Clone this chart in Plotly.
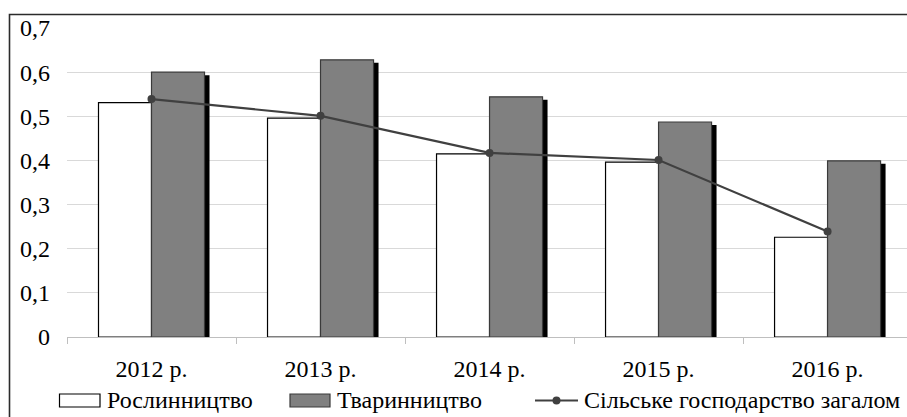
import plotly.graph_objects as go

categories = ["2012 р.", "2013 р.", "2014 р.", "2015 р.", "2016 р."]
crop = [0.531, 0.496, 0.415, 0.396, 0.226]
livestock = [0.600, 0.628, 0.544, 0.487, 0.399]
total = [0.539, 0.501, 0.417, 0.401, 0.239]
ytick_vals = [0, 0.1, 0.2, 0.3, 0.4, 0.5, 0.6, 0.7]
ytick_text = ["0", "0,1", "0,2", "0,3", "0,4", "0,5", "0,6", "0,7"]
legend_names = ["Рослинництво", "Тваринництво", "Сільське господарство загалом"]

W, H = 907, 417
ML, MR, MT, MB = 67, 0, 28, 80
PW, PH = W - ML - MR, H - MT - MB
FONT = "Liberation Serif"
FS = 24

def px(x):
    return (x - ML) / PW

def py(y):
    return (H - MB - y) / PH

BW = 53 / 169  # bar width as fraction of category
SH_DX = 5 / 169
SH_DY = 3 * 0.7 / PH

fig = go.Figure()
# shadow behind livestock bars
fig.add_trace(go.Bar(
    x=categories, y=[v - SH_DY for v in livestock], width=BW, offset=SH_DX,
    marker=dict(color="#000000", line=dict(width=0)), showlegend=False, hoverinfo="skip"))
fig.add_trace(go.Bar(
    x=categories, y=crop, width=BW, offset=-BW, name=legend_names[0],
    marker=dict(color="#ffffff", line=dict(color="#000000", width=1.2)), showlegend=False))
fig.add_trace(go.Bar(
    x=categories, y=livestock, width=BW, offset=0, name=legend_names[1],
    marker=dict(color="#808080", line=dict(color="#3a3a3a", width=1.2)), showlegend=False))
fig.add_trace(go.Scatter(
    x=categories, y=total, mode="lines+markers", name=legend_names[2],
    line=dict(color="#404040", width=2.2), marker=dict(color="#404040", size=8),
    showlegend=False))

shapes = []
annotations = []
# figure border (partially cropped)
shapes.append(dict(type="rect", xref="paper", yref="paper",
                   x0=px(9.5), x1=px(W + 10), y0=py(H + 10), y1=py(14.5),
                   line=dict(color="#2b2b2b", width=1.6), layer="below"))

# custom legend
ly = 400
shapes.append(dict(type="rect", xref="paper", yref="paper",
                   x0=px(59.5), x1=px(100), y0=py(407), y1=py(394),
                   line=dict(color="#000000", width=1.2), fillcolor="#ffffff"))
annotations.append(dict(text=legend_names[0], xref="paper", yref="paper",
                        x=px(105), y=py(ly), xanchor="left", yanchor="middle",
                        showarrow=False, font=dict(family=FONT, size=FS, color="#000")))
shapes.append(dict(type="rect", xref="paper", yref="paper",
                   x0=px(290), x1=px(330), y0=py(407), y1=py(394),
                   line=dict(color="#3a3a3a", width=1.2), fillcolor="#808080"))
annotations.append(dict(text=legend_names[1], xref="paper", yref="paper",
                        x=px(335), y=py(ly), xanchor="left", yanchor="middle",
                        showarrow=False, font=dict(family=FONT, size=FS, color="#000")))
shapes.append(dict(type="line", xref="paper", yref="paper",
                   x0=px(535), x1=px(578), y0=py(400.5), y1=py(400.5),
                   line=dict(color="#404040", width=2.2)))
shapes.append(dict(type="circle", xref="paper", yref="paper",
                   x0=px(552.5), x1=px(560.5), y0=py(404.5), y1=py(396.5),
                   line=dict(color="#404040", width=0), fillcolor="#404040"))
annotations.append(dict(text=legend_names[2], xref="paper", yref="paper",
                        x=px(582), y=py(ly), xanchor="left", yanchor="middle",
                        showarrow=False, font=dict(family=FONT, size=FS, color="#000")))

fig.update_layout(
    width=W, height=H,
    margin=dict(l=ML, r=MR, t=MT, b=MB, pad=0),
    paper_bgcolor="#ffffff", plot_bgcolor="#ffffff",
    barmode="overlay",
    font=dict(family=FONT, size=FS, color="#000000"),
    shapes=shapes, annotations=annotations,
    showlegend=False,
    xaxis=dict(
        type="category", range=[-0.5, 4.47],
        showline=True, linecolor="#bfbfbf", linewidth=1,
        ticks="outside", tickson="boundaries", ticklen=6, tickcolor="#bfbfbf",
        showgrid=False, zeroline=False,
        tickfont=dict(family=FONT, size=FS, color="#000"),
        ticklabelstandoff=10,
    ),
    yaxis=dict(
        range=[0, 0.7], tickvals=ytick_vals, ticktext=ytick_text,
        showgrid=True, gridcolor="#d9d9d9", gridwidth=1,
        zeroline=False, showline=False, ticks="",
        tickfont=dict(family=FONT, size=FS, color="#000"),
        ticklabelstandoff=16,
    ),
)

fig.write_html("out.html")
